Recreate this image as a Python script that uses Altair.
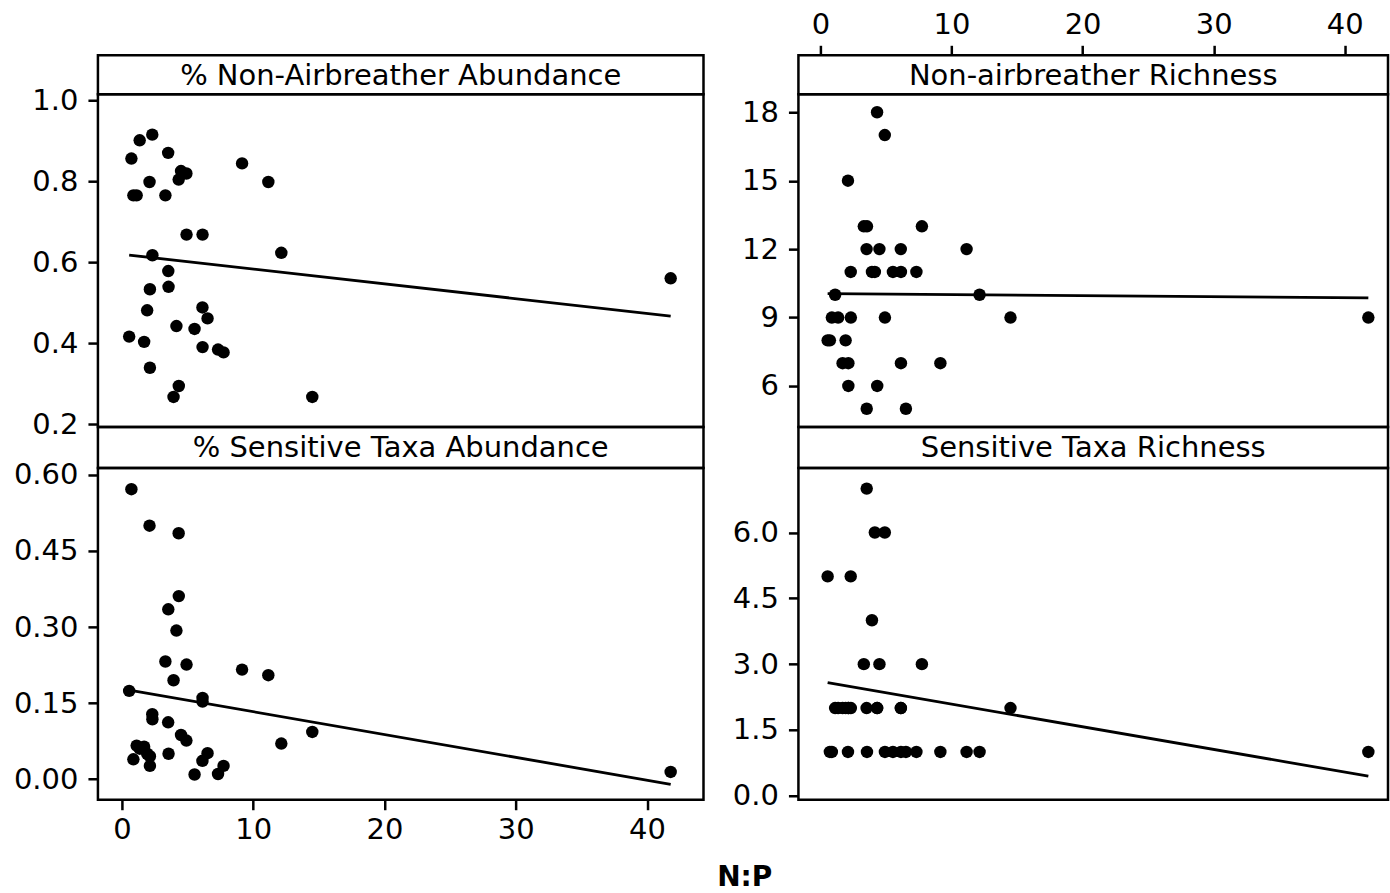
import altair as alt
import pandas as pd

# N:P ratio of each site (shared by all four panels)
np_ratio = [0.55, 0.72, 0.87, 1.12, 1.35, 1.69, 1.92, 2.10, 2.13, 2.13,
            2.31, 2.32, 3.31, 3.52, 3.53, 3.55, 3.93, 4.15, 4.32, 4.33,
            4.50, 4.91, 4.92, 5.53, 6.13, 6.14, 6.14, 6.52, 7.32, 7.74,
            9.15, 11.15, 12.14, 14.5, 41.8]

pct_nonair_abund = [0.416, 0.856, 0.765, 0.765, 0.901, 0.403, 0.481, 0.798, 0.533, 0.339,
                    0.915, 0.617, 0.765, 0.870, 0.578, 0.539, 0.267, 0.442, 0.804, 0.294,
                    0.825, 0.819, 0.668, 0.435, 0.488, 0.668, 0.390, 0.461, 0.384, 0.377,
                    0.844, 0.798, 0.623, 0.267, 0.560]

pct_sens_abund = [0.174, 0.572, 0.039, 0.066, 0.060, 0.064, 0.050, 0.500, 0.045, 0.026,
                  0.128, 0.118, 0.232, 0.112, 0.335, 0.050, 0.195, 0.293, 0.485, 0.361,
                  0.087, 0.076, 0.226, 0.009, 0.036, 0.160, 0.153, 0.051, 0.010, 0.026,
                  0.216, 0.205, 0.070, 0.093, 0.014]

nonair_richness = [8, 8, 9, 10, 9, 7, 8, 15, 7, 6,
                   11, 9, 13, 12, 5, 13, 11, 11, 18, 6,
                   12, 17, 9, 11, 12, 11, 7, 5, 11, 13,
                   7, 12, 10, 9, 9]

sens_richness = [5, 1, 1, 2, 2, 2, 2, 1, 2, 2,
                 5, 2, 3, 2, 7, 1, 4, 6, 2, 2,
                 3, 6, 1, 1, 2, 1, 2, 1, 1, 3,
                 1, 1, 1, 2, 1]

titles = ["% Non-Airbreather Abundance", "Non-airbreather Richness",
          "% Sensitive Taxa Abundance", "Sensitive Taxa Richness"]
x_ticks = [0, 10, 20, 30, 40]

FONT = "DejaVu Sans"
LABEL_SIZE = 29
WL, WR = 606, 590
HS_TOP, HP_TOP = 39, 333
HS_BOT, HP_BOT = 41, 332


def strip(title, w, h):
    return alt.Chart(pd.DataFrame({"t": [title]})).mark_text(
        font=FONT, fontSize=29, color="black", baseline="middle", align="center"
    ).encode(
        text="t:N", x=alt.value(w / 2), y=alt.value(h / 2 + 1)
    ).properties(width=w, height=h)


def y_axis(values, fmt):
    return alt.Axis(values=values, format=fmt, title=None, domain=False, grid=False,
                    tickSize=10, tickWidth=2.5, labelFontSize=LABEL_SIZE, labelPadding=10,
                    labelFont=FONT, labelColor="black", tickColor="black")


def x_axis(orient, offset=0):
    return alt.Axis(values=x_ticks, format="d", title=None, orient=orient, offset=offset,
                    domain=False, grid=False, tickSize=10, tickWidth=2.5,
                    labelFontSize=LABEL_SIZE, labelPadding=6, labelFont=FONT,
                    labelColor="black", tickColor="black")


def panel(yvals, w, h, xdom, ydom, yticks, yfmt, xaxis):
    df = pd.DataFrame({"x": np_ratio, "y": yvals})
    xenc = alt.X("x:Q", scale=alt.Scale(domain=xdom, nice=False, zero=False), axis=xaxis)
    yenc = alt.Y("y:Q", scale=alt.Scale(domain=ydom, nice=False, zero=False),
                 axis=y_axis(yticks, yfmt))
    base = alt.Chart(df)
    pts = base.mark_circle(size=155, color="black", opacity=1).encode(x=xenc, y=yenc)
    line = base.transform_regression("x", "y").mark_line(
        color="black", strokeWidth=2.8).encode(x=xenc, y=yenc)
    return alt.layer(line, pts).properties(width=w, height=h)


xdom_l = [-1.83, 44.3]
xdom_r = [-1.68, 43.3]

p_tl = panel(pct_nonair_abund, WL, HP_TOP, xdom_l, [0.1926, 1.0148],
             [0.2, 0.4, 0.6, 0.8, 1.0], ".1f", None)
p_tr = panel(nonair_richness, WR, HP_TOP, xdom_r, [4.2, 18.79],
             [6, 9, 12, 15, 18], "d", x_axis("top", HS_TOP))
p_bl = panel(pct_sens_abund, WL, HP_BOT, xdom_l, [-0.0408, 0.6138],
             [0.0, 0.15, 0.30, 0.45, 0.60], ".2f", x_axis("bottom"))
p_br = panel(sens_richness, WR, HP_BOT, xdom_r, [-0.09, 7.47],
             [0.0, 1.5, 3.0, 4.5, 6.0], ".1f", None)

chart = alt.concat(
    strip(titles[0], WL, HS_TOP), strip(titles[1], WR, HS_TOP),
    p_tl, p_tr,
    strip(titles[2], WL, HS_BOT), strip(titles[3], WR, HS_BOT),
    p_bl, p_br,
    columns=2,
    spacing=alt.RowColnumber(row=0, column=95),
    align="each",
    bounds="flush",
).properties(
    title=alt.TitleParams("N:P", orient="bottom", anchor="middle", fontSize=28,
                          fontWeight="bold", font=FONT, color="black", offset=10,
                          dx=44, dy=8),
    padding={"left": 12, "top": 8, "right": 0, "bottom": 5},
    background="white",
).configure_view(
    stroke="black", strokeWidth=2.5
)

chart.save("out.html", embed_options={"renderer": "svg", "actions": False})
